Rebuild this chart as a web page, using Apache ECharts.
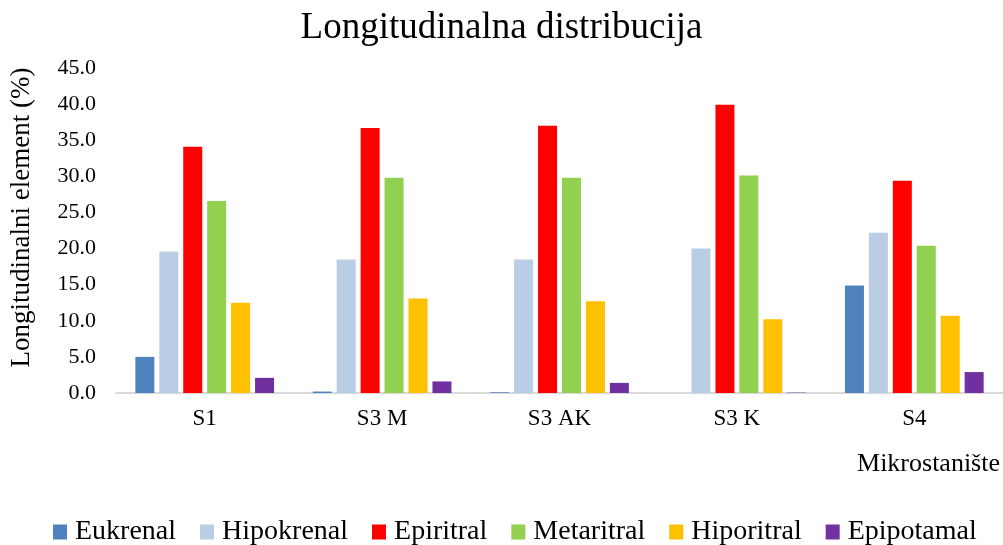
<!DOCTYPE html>
<html>
<head>
<meta charset="utf-8">
<script src="https://cdn.jsdelivr.net/npm/echarts@6/dist/echarts.min.js"></script>
<style>
html,body{margin:0;padding:0;background:#fff;}
#chart{width:1003px;height:545px;}
</style>
</head>
<body>
<div id="chart"></div>
<script>
const categories = ['S1', 'S3 M', 'S3 AK', 'S3 K', 'S4'];
const seriesNames = ['Eukrenal', 'Hipokrenal', 'Epiritral', 'Metaritral', 'Hiporitral', 'Epipotamal'];
const eukrenal   = [5.0, 0.2, 0.1, 0.0, 14.9];
const hipokrenal = [19.6, 18.5, 18.5, 20.0, 22.2];
const epiritral  = [34.1, 36.7, 37.0, 39.9, 29.4];
const metaritral = [26.6, 29.8, 29.8, 30.1, 20.4];
const hiporitral = [12.5, 13.1, 12.7, 10.2, 10.7];
const epipotamal = [2.1, 1.6, 1.4, 0.05, 2.9];
const colors = ['#4F81BD', '#B9CDE5', '#FF0000', '#92D050', '#FFC000', '#7030A0'];
const seriesValues = [eukrenal, hipokrenal, epiritral, metaritral, hiporitral, epipotamal];

const FONT = "'Liberation Serif', 'Times New Roman', serif";
const chart = echarts.init(document.getElementById('chart'));
chart.setOption({
  animation: false,
  color: colors,
  textStyle: { fontFamily: FONT, color: '#000' },
  title: [
    { text: 'Longitudinalna distribucija', left: 'center', top: 5,
      textStyle: { fontFamily: FONT, fontSize: 37, fontWeight: 'normal', color: '#000' } },
    { text: 'Mikrostanište', right: -2, top: 446,
      textStyle: { fontFamily: FONT, fontSize: 26, fontWeight: 'normal', color: '#000' } }
  ],
  legend: {
    data: seriesNames,
    left: 48, top: 513,
    icon: 'rect', itemWidth: 14, itemHeight: 15, itemGap: 24,
    textStyle: { fontFamily: FONT, fontSize: 28, color: '#000', padding: [0, 0, 0, 3] }
  },
  grid: { left: 114, top: 68, width: 893, bottom: 152, containLabel: false },
  xAxis: {
    type: 'category', data: categories,
    axisLine: { lineStyle: { color: '#D9D9D9', width: 2 } },
    axisTick: { show: false },
    axisLabel: { fontFamily: FONT, fontSize: 23, color: '#000', margin: 14 }
  },
  yAxis: {
    type: 'value', min: 0, max: 45, interval: 5,
    name: 'Longitudinalni element (%)', nameLocation: 'middle', nameGap: 81,
    nameTextStyle: { fontFamily: FONT, fontSize: 27, color: '#000', padding: [0, 0, 0, 26] },
    axisLine: { show: false }, axisTick: { show: false },
    splitLine: { show: false },
    axisLabel: { fontFamily: FONT, fontSize: 22, color: '#000', margin: 20,
      formatter: v => v.toFixed(1) }
  },
  series: seriesNames.map((n, i) => ({
    name: n, type: 'bar', data: seriesValues[i],
    barWidth: 19, barGap: '26%',
    itemStyle: { color: colors[i] }
  }))
});
</script>
</body>
</html>
